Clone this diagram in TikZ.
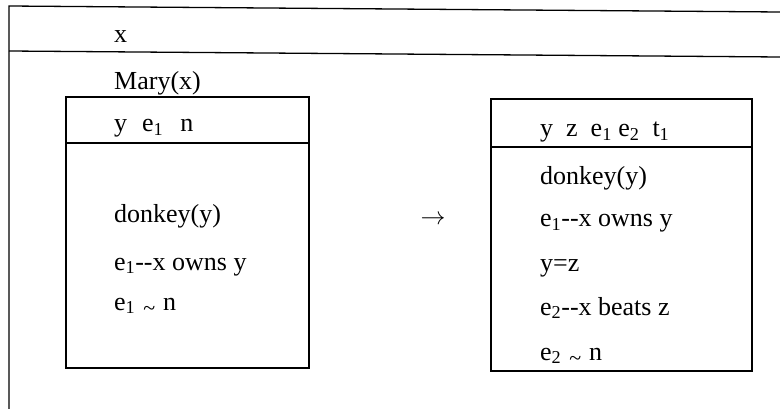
\documentclass[tikz,border=0pt]{standalone}
\usepackage{fontspec}
\setmainfont{Liberation Serif}
\usetikzlibrary{positioning}

\newcommand{\overlapsym}{\hspace{8pt}\raisebox{-5pt}{\fontsize{22}{22}\selectfont\textasciitilde}\hspace{8pt}}

\begin{document}
\begin{tikzpicture}[
    x=1pt, y=-1pt,
    every node/.style={font=\fontsize{26}{30}\selectfont},
    cond/.style={anchor=base west, inner sep=0pt},
    drsbox/.style={rectangle, draw, line width=1.6pt, inner sep=0pt},
    frame/.style={draw, line width=1.3pt}
]
    \useasboundingbox (0,0) rectangle (780,409);

    % Outer box (open to the right and below)
    \coordinate (otr) at (780,12);
    \coordinate (otl) at (9,6);
    \coordinate (obl) at (9,409);
    \coordinate (odl) at (9,51);
    \coordinate (odr) at (780,57);
    \path [frame] (otr) -- (otl) -- (obl);
    \path [frame] (odl) -- (odr);

    % Inner boxes
    \node [drsbox, minimum width=243, minimum height=271] (lbox) at (187.5,232.5) {};
    \node [drsbox, minimum width=261, minimum height=272] (rbox) at (621.5,235) {};
    \draw [line width=1.6pt] (lbox.west |- 0,143) -- (lbox.east |- 0,143);
    \draw [line width=1.6pt] (rbox.west |- 0,147) -- (rbox.east |- 0,147);

    % Nodes
    \node [cond] (ou) at (114,43) {x};
    \node [cond] (mary) at (114,90) {Mary(x)};

    \node [cond] (lu) at (114,132) {y\hspace{15pt}e\textsubscript{1}\hspace{17pt}n};
    \node [cond] (ldonk) at (114,223) {donkey(y)};
    \node [cond] (lown) at (114,270) {e\textsubscript{1}-{}-x owns y};
    \node [cond] (lsim) at (114,310) {e\textsubscript{1}\overlapsym n};

    \node (arrow) at (433,220) {$\rightarrow$};

    \node [cond] (ru) at (540,137) {y\enspace z\enspace e\textsubscript{1} e\textsubscript{2}\enspace t\textsubscript{1}};
    \node [cond] (rdonk) at (540,185) {donkey(y)};
    \node [cond] (rown) at (540,227) {e\textsubscript{1}-{}-x owns y};
    \node [cond] (req) at (540,272) {y=z};
    \node [cond] (rbeat) at (540,315) {e\textsubscript{2}-{}-x beats z};
    \node [cond] (rsim) at (540,360) {e\textsubscript{2}\overlapsym n};

\end{tikzpicture}
\end{document}
